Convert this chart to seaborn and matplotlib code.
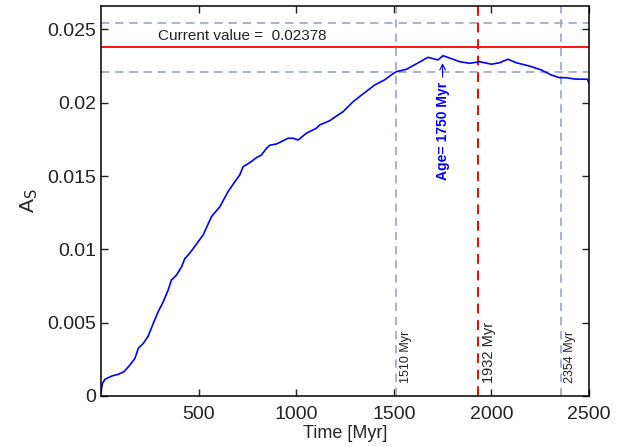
import matplotlib
matplotlib.use("Agg")
import matplotlib.pyplot as plt
import seaborn as sns
import pandas as pd

time_myr = [0, 3.6, 8.5, 20, 55, 89, 118, 148, 174, 191, 217, 242, 268, 293, 319,
            344, 361, 387, 413, 430, 447, 472, 523, 566, 609, 651, 686, 711, 728,
            762, 797, 822, 848, 865, 899, 933, 958, 984, 1010, 1052, 1103, 1121,
            1172, 1189, 1240, 1291, 1342, 1402, 1453, 1487, 1513, 1564, 1615, 1675,
            1726, 1752, 1803, 1837, 1871, 1888, 1940, 2000, 2042, 2085, 2127, 2196,
            2255, 2306, 2349, 2383, 2425, 2493, 2500]
a_s = [0.0002, 0.0006, 0.00087, 0.00114, 0.00136, 0.00148, 0.00166, 0.00211,
       0.00257, 0.00325, 0.00359, 0.00409, 0.00496, 0.00575, 0.00643, 0.00723,
       0.00791, 0.00825, 0.00882, 0.00939, 0.00962, 0.01005, 0.01098, 0.01223,
       0.01291, 0.01394, 0.01462, 0.01508, 0.01564, 0.01591, 0.01626, 0.01644,
       0.0169, 0.0171, 0.01719, 0.01741, 0.01758, 0.01758, 0.01746, 0.01792,
       0.01826, 0.01849, 0.01878, 0.01894, 0.01939, 0.02007, 0.0206, 0.02121,
       0.02156, 0.0219, 0.02212, 0.02228, 0.02265, 0.0231, 0.02292, 0.02321,
       0.02297, 0.0228, 0.02273, 0.02269, 0.0228, 0.02263, 0.02273, 0.02297,
       0.02273, 0.0225, 0.02224, 0.0219, 0.02171, 0.02171, 0.02162, 0.0216, 0.0213]

current_value = 0.02378
band_low = 0.0221
band_high = 0.02546
age_lines = [1510, 2354]
age_labels = ["1510 Myr", "2354 Myr"]
best_age = 1932
best_label = "1932 Myr"
peak_age = 1750
peak_value = 0.0227
x_ticks = [500, 1000, 1500, 2000, 2500]
y_ticks = [0, 0.005, 0.01, 0.015, 0.02, 0.025]
y_tick_labels = ["0", "0.005", "0.01", "0.015", "0.02", "0.025"]

sns.set_style("ticks")
plt.rcParams["font.family"] = ["Liberation Sans", "DejaVu Sans"]

fig = plt.figure(figsize=(6.25, 4.47), dpi=100)
ax = fig.add_axes([0.1616, 0.1141, 0.7808, 0.8725])

grey = "#9aa6c6"
dash = (0, (5, 3.5))

ax.axhline(band_high, color=grey, lw=1.2, ls=dash)
ax.axhline(band_low, color=grey, lw=1.2, ls=dash)
ax.axhline(current_value, color="#ff0000", lw=1.3)
for x in age_lines:
    ax.axvline(x, color=grey, lw=1.2, ls=dash)
ax.axvline(best_age, color="#ff0000", lw=1.4, ls=dash)

df = pd.DataFrame({"t": time_myr, "a": a_s})
sns.lineplot(data=df, x="t", y="a", ax=ax, color="#0000ff", lw=1.2)

ax.set_xlim(0, 2500)
ax.set_ylim(0, 0.0266)
ax.set_xticks(x_ticks)
ax.set_xticklabels([str(v) for v in x_ticks])
ax.set_yticks(y_ticks)
ax.set_yticklabels(y_tick_labels)
ax.tick_params(direction="in", length=5, width=1, labelsize=14,
               top=True, right=True, colors="#222222")
ax.tick_params(axis="x", pad=7)
for s in ax.spines.values():
    s.set_linewidth(1.1)
    s.set_color("black")

ax.set_xlabel("Time [Myr]", fontsize=13, labelpad=2)
ax.set_ylabel(r"A$_\mathrm{S}$", fontsize=15, labelpad=5)

ax.text(726, 0.02456, "Current value =  " + str(current_value),
        ha="center", va="center", fontsize=11, color="#222222")

for x, lab in zip(age_lines, age_labels):
    ax.text(x + 20, 0.0009, lab, rotation=90, ha="left", va="bottom",
            fontsize=9, color="#222222")
ax.text(best_age + 20, 0.0009, best_label, rotation=90, ha="left", va="bottom",
        fontsize=10.5, color="#222222")

ax.annotate("Age= " + str(peak_age) + " Myr", xy=(peak_age, peak_value),
            xytext=(peak_age, 0.02142), rotation=90, ha="center", va="top",
            fontsize=10, fontweight="bold", color="#0000ff",
            arrowprops=dict(arrowstyle="->", color="#0000ff", lw=0.8,
                            shrinkA=1, shrinkB=0))

fig.savefig("out.png", dpi=100)
